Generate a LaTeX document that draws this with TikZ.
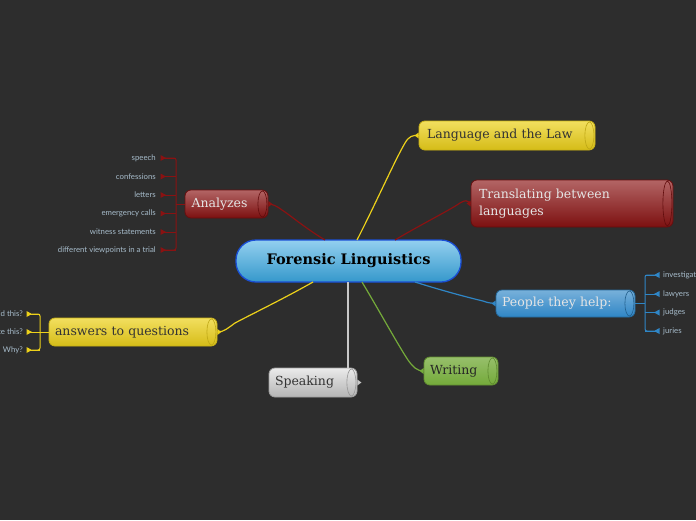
\documentclass[tikz,border=0pt]{standalone}
\usepackage{fontspec}
\setmainfont{DejaVu Serif}
\newfontfamily\labfont{Lato}
\usetikzlibrary{arrows.meta}
\definecolor{bg}{HTML}{2D2D2D}
\definecolor{cblue}{HTML}{3BA9E2}
\definecolor{cblueB}{HTML}{1A4FD6}
\definecolor{cyel}{HTML}{EDD11A}
\definecolor{cred}{HTML}{8A1212}
\definecolor{cpb}{HTML}{2F86C6}
\definecolor{cgray}{HTML}{C8C8C8}
\definecolor{cgreen}{HTML}{74AA3A}
\definecolor{labc}{HTML}{A7BCCB}
\tikzset{
  x=1pt,y=-1pt,
  topic/.style={rounded corners=6pt, inner sep=0pt, line width=0.8pt, font=\fontsize{12.5}{17}\selectfont},
  ylw/.style={topic, draw=cyel!85!black, top color=cyel!70!white, bottom color=cyel!90!black, text=black!80},
  rd/.style={topic, draw=cred!75!black, top color=cred!65!white, bottom color=cred!90!black, text=white!90!black},
  bl/.style={topic, draw=cpb!80!black, top color=cpb!65!white, bottom color=cpb, text=white!90!black},
  gr/.style={topic, draw=cgray!80!black, top color=white!92!black, bottom color=cgray!90!black, text=black!80},
  gn/.style={topic, draw=cgreen!85!black, top color=cgreen!75!white, bottom color=cgreen, text=black!85},
  lab/.style={font=\labfont\fontsize{7.8}{8}\selectfont, text=labc, inner sep=0pt},
  conn/.style={line width=1.2pt},
  tickl/.style={line width=1pt},
}
\newcommand{\capend}[3]{% node, color, halfheight
  \draw[#2, line width=0.6pt] ([xshift=-6pt]#1.east) ellipse (4.5pt and #3pt);}
\begin{document}
\begin{tikzpicture}
\fill[bg] (0,0) rectangle (696,520);
\useasboundingbox (0,0) rectangle (696,520);

% center
\node[rounded corners=20pt, draw=cblueB, line width=1.3pt, top color=cblue!55!white, bottom color=cblue!90!black,
  minimum width=225pt, minimum height=42pt, inner sep=0pt, font=\bfseries\fontsize{14.5}{16}\selectfont, text=black]
  (c) at (348.5,261) {Forensic Linguistics};

% topics
\node[ylw, minimum width=176pt, minimum height=29pt, text width=160pt, align=left] (law) at (507,135.5) {Language and the Law};
\capend{law}{cyel!80!black}{13.5}
\node[rd, minimum width=202pt, minimum height=47pt, text width=186pt, align=left] (tr) at (572,203.5) {Translating between\\languages};
\capend{tr}{cred!70!black}{22.5}
\node[rd, minimum width=83pt, minimum height=28pt, text width=70pt, align=left] (an) at (226.5,204) {Analyzes};
\capend{an}{cred!70!black}{13}
\node[bl, minimum width=139pt, minimum height=27pt, text width=127pt, align=left] (ph) at (565.5,303.5) {People they help:};
\capend{ph}{cpb!70!black}{12.5}
\node[ylw, minimum width=168pt, minimum height=28pt, text width=156pt, align=left] (aq) at (133,332) {answers to questions};
\capend{aq}{cyel!80!black}{13}
\node[gr, minimum width=88pt, minimum height=29pt, text width=76pt, align=left] (sp) at (313,382.5) {Speaking};
\capend{sp}{cgray!75!black}{13.5}
\node[gn, minimum width=74pt, minimum height=28pt, text width=62pt, align=left] (wr) at (461,371) {Writing};
\capend{wr}{cgreen!80!black}{13}

% connectors from center
\draw[conn, cyel] (357,240) .. controls (375,205) and (395,160) .. (405,143) .. controls (409,136) and (413,135) .. (law.west);
\draw[conn, cred] (395,240) .. controls (420,225) and (450,210) .. (460,203) .. controls (465,200) and (467,200) .. (tr.west);
\draw[conn, cred] (325,240) .. controls (305,228) and (290,215) .. (282,210) .. controls (277,206) and (272,204) .. (an.east);
\draw[conn, cpb] (415,282) .. controls (440,290) and (470,298) .. (483,301) .. controls (488,303) and (491,303) .. (ph.west);
\draw[conn, cyel] (313,282) .. controls (285,298) and (250,315) .. (235,323) .. controls (228,328) and (224,332) .. (aq.east);
\draw[line width=1.5pt, cgray] (348,282) -- (sp.north -| 348,0);
\draw[conn, cgreen] (362,282) .. controls (380,312) and (398,345) .. (408,360) .. controls (413,367) and (417,371) .. (wr.west);

% small end markers
\fill[cyel] (law.west) ++(0,-3) -- ++(-4,3) -- ++(4,3) -- cycle;
\fill[cred] (tr.west) ++(0,-3) -- ++(-4,3) -- ++(4,3) -- cycle;
\fill[cred] (an.east) ++(0,-3) -- ++(4,3) -- ++(-4,3) -- cycle;
\fill[cpb] (ph.west) ++(0,-3) -- ++(-4,3) -- ++(4,3) -- cycle;
\fill[cyel] (aq.east) ++(0,-3) -- ++(4,3) -- ++(-4,3) -- cycle;
\fill[cgray] (sp.east) ++(0,-3) -- ++(4,3) -- ++(-4,3) -- cycle;
\fill[cgreen] (wr.west) ++(0,-3) -- ++(-4,3) -- ++(4,3) -- cycle;

% Analyzes children
\draw[line width=1pt, cred] (an.west) -- (176,204);
\draw[line width=1pt, cred, rounded corners=2pt] (165,158) -- (176,158) -- (176,250) -- (165,250);
\foreach \y/\t/\n in {158/speech/a1,176.5/confessions/a2,195/letters/a3,213.5/emergency calls/a4,232/witness statements/a5,250/different viewpoints in a trial/a6}{
  \node[lab, anchor=east] (\n) at (156,\y) {\t};
  \draw[tickl, cred] (176,\y) -- (162,\y);
  \fill[cred] (160.5,\y-3) -- (166,\y) -- (160.5,\y+3) -- cycle;
}

% People children
\draw[line width=1pt, cpb] (ph.east) -- (645,303.5);
\draw[line width=1pt, cpb, rounded corners=2pt] (654,275) -- (645,275) -- (645,331) -- (654,331);
\foreach \y/\t/\n in {275/investigators/p1,294/lawyers/p2,312.5/judges/p3,331/juries/p4}{
  \node[lab, anchor=west] (\n) at (663,\y) {\t};
  \draw[tickl, cpb] (645,\y) -- (658,\y);
  \fill[cpb] (659.5,\y-3) -- (654,\y) -- (659.5,\y+3) -- cycle;
}

% answers children
\draw[line width=1pt, cyel] (aq.west) -- (40,332);
\draw[line width=1pt, cyel, rounded corners=2pt] (32,314) -- (40,314) -- (40,350) -- (32,350);
\foreach \y/\t/\n in {314/Who said this?/q1,332/Who wrote this?/q2,350/Why?/q3}{
  \node[lab, anchor=east] (\n) at (23,\y) {\t};
  \draw[tickl, cyel] (40,\y) -- (28,\y);
  \fill[cyel] (26.5,\y-3) -- (32,\y) -- (26.5,\y+3) -- cycle;
}
\end{tikzpicture}
\end{document}
